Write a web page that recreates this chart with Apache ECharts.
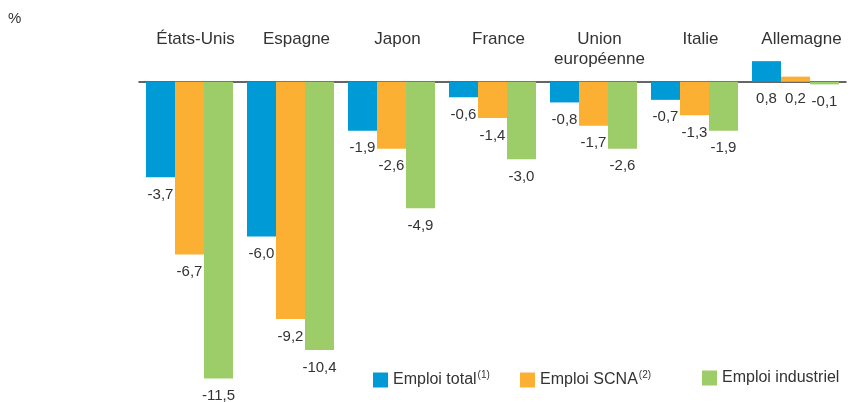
<!DOCTYPE html>
<html>
<head>
<meta charset="utf-8">
<script src="https://cdn.jsdelivr.net/npm/echarts@6/dist/echarts.min.js"></script>
<style>
  html, body { margin: 0; padding: 0; background: #fff; }
  #main { width: 854px; height: 402px; }
</style>
</head>
<body>
<div id="main"></div>
<script>
// données (%)
var pays = ['États-Unis', 'Espagne', 'Japon', 'France', 'Union\neuropéenne', 'Italie', 'Allemagne'];
var emploiTotal = [-3.7, -6.0, -1.9, -0.6, -0.8, -0.7, 0.8];
var emploiSCNA = [-6.7, -9.2, -2.6, -1.4, -1.7, -1.3, 0.2];
var emploiIndustriel = [-11.5, -10.4, -4.9, -3.0, -2.6, -1.9, -0.1];

var police = '"Liberation Sans Narrow", "Liberation Sans", Arial, sans-serif';

function etiquette(p) {
    return p.value.toFixed(1).replace('.', ',');
}

function serie(nom, data, couleur) {
    return {
        name: nom,
        type: 'bar',
        data: data,
        barWidth: 29,
        barGap: '0%',
        itemStyle: { color: couleur },
        label: {
            show: true,
            position: 'bottom',
            distance: 10,
            color: '#333',
            fontFamily: police,
            fontSize: 15,
            formatter: etiquette
        }
    };
}

var legendeTexte = {
    color: '#333',
    fontFamily: police,
    fontSize: 16,
    rich: {
        sup: { fontSize: 10, verticalAlign: 'top', padding: [0, 0, 10, 1], color: '#333', fontFamily: police }
    }
};

function legende(nom, gauche, sup) {
    return {
        data: [nom],
        left: gauche,
        top: 365,
        icon: 'rect',
        itemWidth: 15,
        itemHeight: 15,
        itemGap: 0,
        textStyle: legendeTexte,
        formatter: function (n) { return sup ? n + '{sup|' + sup + '}' : n; }
    };
}

var myChart = echarts.init(document.getElementById('main'));
myChart.setOption({
    animation: false,
    title: {
        text: '%',
        left: 3,
        top: 6,
        textStyle: { color: '#333', fontFamily: police, fontSize: 15, fontWeight: 'normal' }
    },
    legend: [
        legende('Emploi total', 368, '(1)'),
        legende('Emploi SCNA', 515, '(2)'),
        legende('Emploi industriel', 697, '')
    ],
    grid: { left: 139, right: 8, top: 56, height: 325 },
    xAxis: {
        type: 'category',
        position: 'top',
        data: pays,
        axisLine: { onZero: true, lineStyle: { color: '#333', width: 1.5 } },
        axisTick: { show: false },
        axisLabel: {
            margin: 27,
            verticalAlign: 'top',
            lineHeight: 20,
            padding: [0, 0, 0, 12],
            color: '#333',
            fontFamily: police,
            fontSize: 17,
            interval: 0
        }
    },
    yAxis: {
        type: 'value',
        min: -11.6,
        max: 1,
        show: false,
        splitLine: { show: false }
    },
    series: [
        serie('Emploi total', emploiTotal, '#009ad6'),
        serie('Emploi SCNA', emploiSCNA, '#fbb034'),
        serie('Emploi industriel', emploiIndustriel, '#9ccd68')
    ]
});
</script>
</body>
</html>
